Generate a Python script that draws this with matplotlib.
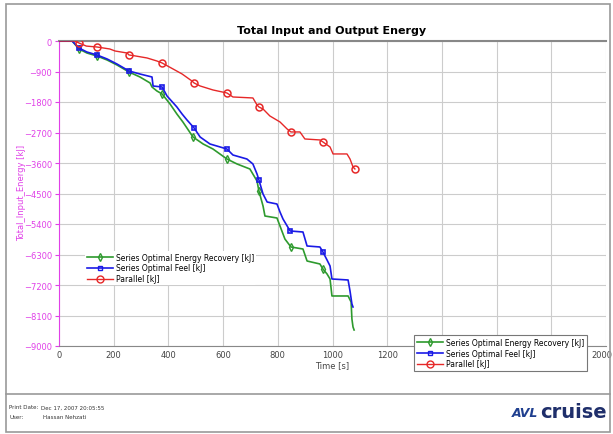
import numpy as np
import matplotlib.pyplot as plt
import matplotlib.transforms as mtransforms
from matplotlib.lines import Line2D
from matplotlib.patches import Rectangle

# Series Optimal Energy Recovery [kJ]
t_green = [0, 48, 73, 102, 139, 176, 212, 256, 296, 333, 340, 358, 377, 406, 431, 453,
           490, 527, 563, 614, 651, 698, 724, 731, 746, 753, 797, 808, 826, 848, 892,
           907, 954, 965, 980, 991, 998, 1057, 1068, 1071, 1075, 1079]
e_green = [0, 0, -236, -354, -443, -561, -708, -915, -1062, -1239, -1357, -1475, -1564,
           -1859, -2154, -2390, -2833, -3039, -3187, -3482, -3629, -3777, -4131, -4426,
           -4869, -5164, -5223, -5459, -5843, -6078, -6138, -6492, -6580, -6728, -6875,
           -7023, -7524, -7524, -7701, -8203, -8439, -8528]
mk_green = [73, 139, 256, 377, 490, 614, 731, 848, 965]

# Series Optimal Feel [kJ]
t_blue = [0, 48, 73, 102, 139, 176, 212, 256, 296, 340, 344, 377, 395, 431, 450, 468,
          494, 516, 552, 614, 636, 687, 709, 724, 731, 746, 761, 797, 808, 819, 845,
          892, 907, 954, 965, 980, 991, 998, 1057, 1064, 1071, 1075]
e_blue = [0, 0, -207, -325, -413, -531, -679, -885, -974, -1062, -1328, -1357, -1623,
          -1947, -2154, -2331, -2567, -2833, -3039, -3187, -3364, -3482, -3629, -3924,
          -4101, -4515, -4751, -4810, -5046, -5252, -5606, -5636, -6049, -6078, -6226,
          -6462, -6639, -7023, -7052, -7377, -7760, -7849]
mk_blue = [73, 139, 256, 377, 494, 614, 731, 845, 965]

# Parallel [kJ]
t_red = [0, 58, 73, 100, 139, 186, 205, 249, 256, 271, 322, 358, 377, 417, 450, 486,
         494, 516, 563, 614, 636, 709, 724, 731, 746, 771, 808, 834, 848, 881, 899,
         954, 965, 991, 1002, 1053, 1064, 1075, 1082]
e_red = [0, 0, -59, -150, -177, -236, -295, -354, -413, -430, -501, -590, -649, -826,
         -973, -1180, -1239, -1327, -1445, -1534, -1652, -1681, -1888, -1947, -2006,
         -2212, -2389, -2596, -2684, -2684, -2891, -2920, -2979, -3127, -3333, -3333,
         -3481, -3717, -3776]
mk_red = [73, 139, 256, 377, 494, 614, 731, 848, 965, 1082]

labels = ['Series Optimal Energy Recovery [kJ]', 'Series Optimal Feel [kJ]', 'Parallel [kJ]']
xticks = [0, 200, 400, 600, 800, 1000, 1200, 1400, 1600, 1800, 2000]
# 1400-1800 sit under the lower legend box in the original
xticklabels = ['0', '200', '400', '600', '800', '1000', '1200', '', '', '', '2000']
yticks = [0, -900, -1800, -2700, -3600, -4500, -5400, -6300, -7200, -8100, -9000]

c_green = '#2e9a2e'
c_blue = '#1a1ae6'
c_red = '#e62828'
magenta = '#e040e8'


def idx(t, marks):
    return [t.index(m) for m in marks]


fig = plt.figure(figsize=(6.13, 4.35), dpi=100)
ax = fig.add_axes([59 / 613, 1 - 347 / 435, 547 / 613, 305 / 435])

ax.plot(t_green, e_green, color=c_green, lw=1.2, marker='d', ms=4,
        markevery=idx(t_green, mk_green), mfc='none', mew=1.0, zorder=3)
ax.plot(t_blue, e_blue, color=c_blue, lw=1.2, marker='s', ms=3.5,
        markevery=idx(t_blue, mk_blue), mfc='none', mew=1.2, zorder=4)
ax.plot(t_red, e_red, color=c_red, lw=1.0, marker='o', ms=5,
        markevery=idx(t_red, mk_red), mfc='none', mew=1.1, zorder=5)

ax.set_xlim(0, 2000)
ax.set_ylim(-9000, 0)
ax.set_xticks(xticks)
ax.set_xticklabels(xticklabels)
ax.set_yticks(yticks)
ax.tick_params(axis='x', labelsize=6, colors='#444444', length=0, pad=3)
ax.tick_params(axis='y', labelsize=6, colors=magenta, length=3, pad=2)
last = ax.get_xticklabels()[-1]
last.set_transform(last.get_transform() +
                   mtransforms.ScaledTranslation(-4 / 100, 0, fig.dpi_scale_trans))
ax.grid(True, color='#cccccc', lw=0.8)
ax.set_axisbelow(True)
for s in ['top', 'right', 'bottom']:
    ax.spines[s].set_color('#888888')
ax.spines['top'].set_linewidth(1.5)
ax.spines['right'].set_visible(False)
ax.spines['left'].set_color(magenta)
ax.set_xlabel('Time [s]', fontsize=6, color='#444444', labelpad=1)
fig.text(22 / 613, 1 - 193 / 435, 'Total_Input_Energy [kJ]', rotation=90,
         fontsize=6, color=magenta, ha='center', va='center')

fig.text(332 / 613, 1 - 31 / 435, 'Total Input and Output Energy', fontsize=8,
         fontweight='bold', ha='center', va='center')

handles = [Line2D([], [], color=c_green, lw=1.2, marker='d', ms=4, mfc='none'),
           Line2D([], [], color=c_blue, lw=1.2, marker='s', ms=3.5, mfc='none'),
           Line2D([], [], color=c_red, lw=1.0, marker='o', ms=5, mfc='none')]

leg1 = ax.legend(handles, labels, loc='upper left', bbox_to_anchor=(85 / 613, 1 - 252 / 435),
                 bbox_transform=fig.transFigure, frameon=True, fontsize=5.5,
                 handlelength=3.5, handletextpad=0.4, labelspacing=0.25,
                 borderpad=0.2, borderaxespad=0)
leg1.get_frame().set_edgecolor('none')
leg1.get_frame().set_facecolor('white')
leg1.get_frame().set_alpha(1)
leg1.set_zorder(6)
ax.add_artist(leg1)

leg2 = ax.legend(handles, labels, loc='upper left', bbox_to_anchor=(414 / 613, 1 - 336 / 435),
                 bbox_transform=fig.transFigure, frameon=True, fontsize=5.5,
                 handlelength=3.5, handletextpad=0.4, labelspacing=0.25,
                 borderpad=0.35, borderaxespad=0, fancybox=False)
leg2.get_frame().set_edgecolor('#777777')
leg2.get_frame().set_facecolor('white')
leg2.get_frame().set_alpha(1)
leg2.get_frame().set_linewidth(0.8)
leg2.set_zorder(7)

# page frame and footer
fig.patches.append(Rectangle((6 / 613, 1 - 433 / 435), 604 / 613, 428 / 435,
                             transform=fig.transFigure, fill=False,
                             edgecolor='#999999', lw=1.2))
fig.add_artist(Line2D([6 / 613, 610 / 613], [1 - 395 / 435, 1 - 395 / 435],
                      transform=fig.transFigure, color='#999999', lw=1.2))
fig.text(9 / 613, 1 - 408 / 435, 'Print Date:', fontsize=4, va='center', color='#333333')
fig.text(41 / 613, 1 - 408 / 435, 'Dec 17, 2007 20:05:55', fontsize=4, va='center', color='#333333')
fig.text(9 / 613, 1 - 418 / 435, 'User:', fontsize=4, va='center', color='#333333')
fig.text(43 / 613, 1 - 418 / 435, 'Hassan Nehzati', fontsize=4, va='center', color='#333333')

fig.text(538 / 613, 1 - 414 / 435, 'AVL', fontsize=9, fontweight='bold', style='italic',
         color='#1f3f8f', ha='right', va='center')
fig.text(540 / 613, 1 - 413 / 435, 'cruise', fontsize=14, fontweight='bold',
         color='#1f2f6b', ha='left', va='center')

fig.savefig('out.png', dpi=100)
